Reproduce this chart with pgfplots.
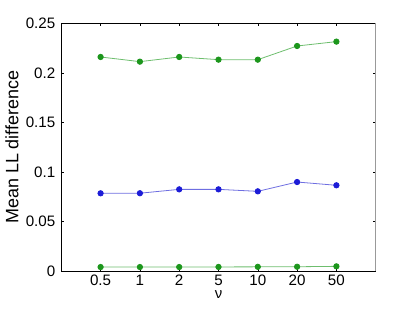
\documentclass[border=0pt]{standalone}
\usepackage{pgfplots}
\pgfplotsset{compat=1.18}
\usepackage{fontspec}
\setmainfont{Liberation Sans}
\definecolor{mgreen}{RGB}{28,150,28}
\definecolor{mgreenl}{RGB}{110,190,110}
\definecolor{mblue}{RGB}{28,28,215}
\definecolor{mbluel}{RGB}{110,110,225}
\begin{document}
\begin{tikzpicture}
\path[use as bounding box] (0,0) rectangle (415bp,312bp);
\begin{axis}[
  at={(61.3bp,41bp)}, anchor=south west,
  scale only axis, width=314.4bp, height=247.7bp,
  xmin=-1, xmax=7, ymin=0, ymax=0.25,
  xtick={0,1,2,3,4,5,6},
  xticklabels={0.5,1,2,5,10,20,50},
  ytick={0,0.05,0.1,0.15,0.2,0.25},
  yticklabels={0,0.05,0.1,0.15,0.2,0.25},
  tick align=inside, major tick length=3bp,
  tick style={black, line width=0.5pt},
  axis line style={black, line width=0.6pt},
  ticklabel style={font=\fontsize{15.2}{17}\selectfont},
  xticklabel style={yshift=-2.5bp, inner ysep=1bp},
  yticklabel style={xshift=-2.5bp},
  /pgf/number format/assume math mode=true,
  xlabel={\fontsize{15}{17}\selectfont ν},
  ylabel={\fontsize{18}{20}\selectfont Mean LL difference},
  xlabel style={at={(axis description cs:0.5,-0.097)}, anchor=center, inner sep=0pt},
  ylabel style={at={(axis description cs:-0.157,0.5)}, anchor=center},
  clip=false,
]
\addplot[mgreenl, line width=0.8pt, mark=*, mark size=2.7bp, mark options={fill=mgreen, draw=mgreen}] coordinates {
(0,0.2160) (1,0.2113) (2,0.2160) (3,0.2133) (4,0.2133) (5,0.2271) (6,0.2315)};
\addplot[mbluel, line width=0.8pt, mark=*, mark size=2.7bp, mark options={fill=mblue, draw=mblue}] coordinates {
(0,0.0784) (1,0.0785) (2,0.0824) (3,0.0824) (4,0.0804) (5,0.0898) (6,0.0865)};
\addplot[mgreenl, line width=0.8pt, mark=*, mark size=2.7bp, mark options={fill=mgreen, draw=mgreen}] coordinates {
(0,0.0040) (1,0.0040) (2,0.0040) (3,0.0041) (4,0.0042) (5,0.0043) (6,0.0047)};
\draw[gray!80, line width=1.2pt] (rel axis cs:1,0) -- (rel axis cs:1,1);
\end{axis}
\end{tikzpicture}
\end{document}
